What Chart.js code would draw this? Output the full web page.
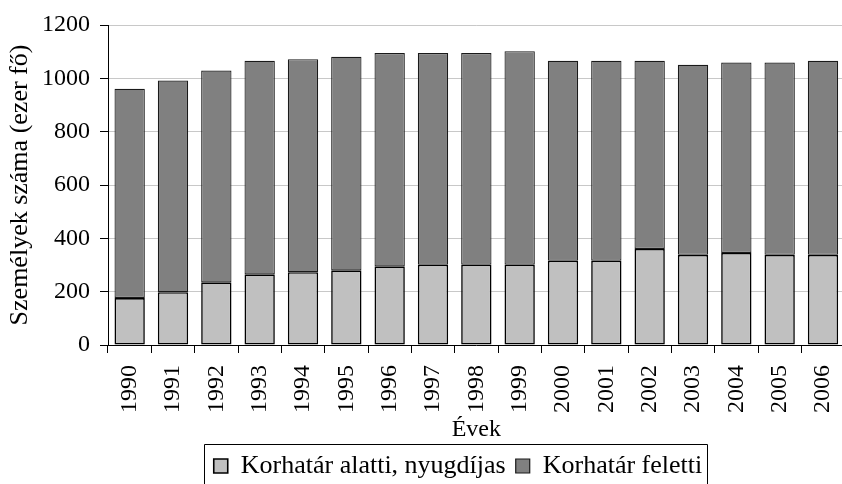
<!DOCTYPE html>
<html>
<head>
  <meta charset="UTF-8">
  <title>Személyek száma</title>
  <style>
    html, body {
      margin: 0;
      padding: 0;
      background: #fff;
      overflow: hidden;
    }
    #wrap {
      width: 859px;
      height: 489px;
    }
  </style>
</head>
<body>
  <div id="wrap">
    <canvas id="chart"></canvas>
  </div>

  <script src="https://cdn.jsdelivr.net/npm/chart.js"></script>
  <script>
    const years = ["1990", "1991", "1992", "1993", "1994", "1995", "1996", "1997", "1998",
                   "1999", "2000", "2001", "2002", "2003", "2004", "2005", "2006"];
    // alsó rész (világosszürke)
    const alattiNyugdijas = [176, 198, 235, 265, 273, 280, 295, 301, 301,
                             301, 316, 316, 360, 338, 345, 338, 338];
    // felső rész (sötétszürke)
    const feletti = [785, 794, 794, 801, 799, 801, 800, 794, 794,
                     801, 750, 750, 706, 713, 714, 721, 728];
    const seriesNames = ["Korhatár alatti, nyugdíjas", "Korhatár feletti"];
    const yTicks = [0, 200, 400, 600, 800, 1000, 1200];

    const FONT = "Liberation Serif";
    const SIZE = 24;
    const BIG = 26;

    // keret a jelmagyarázat körül, és eltolás középre
    const legendFrame = {
      id: "legendFrame",
      afterLayout(chart) {
        const lg = chart.legend;
        const shift = 458 - (lg.left + lg.right) / 2;
        lg.left += shift;
        lg.right += shift;
        (lg.legendHitBoxes || []).forEach((hb) => { hb.left += shift; });
      },
      afterDraw(chart) {
        const boxes = chart.legend.legendHitBoxes;
        if (!boxes || !boxes.length) return;
        const first = boxes[0];
        const last = boxes[boxes.length - 1];
        const mid = first.top + first.height / 2;
        const x0 = Math.round(first.left - 10) + 0.5;
        const x1 = Math.round(last.left + last.width + 5) + 0.5;
        const y0 = Math.round(mid - 22) + 0.5;
        const y1 = mid + 40;
        const ctx = chart.ctx;
        ctx.save();
        ctx.strokeStyle = "#000";
        ctx.lineWidth = 1;
        ctx.beginPath();
        ctx.moveTo(x0, y1);
        ctx.lineTo(x0, y0);
        ctx.lineTo(x1, y0);
        ctx.lineTo(x1, y1);
        ctx.stroke();
        ctx.restore();
      }
    };

    Chart.defaults.font.family = FONT;
    Chart.defaults.font.size = SIZE;
    Chart.defaults.color = "#000";

    new Chart(document.getElementById("chart"), {
      type: "bar",
      data: {
        labels: years,
        datasets: [
          {
            label: seriesNames[0],
            data: alattiNyugdijas,
            backgroundColor: "#c0c0c0",
            borderColor: "#000",
            borderWidth: 1.6,
            borderSkipped: false,
            categoryPercentage: 1,
            barPercentage: 0.7,
          },
          {
            label: seriesNames[1],
            data: feletti,
            backgroundColor: "#808080",
            borderColor: "#1a1a1a",
            borderWidth: 1.2,
            borderSkipped: false,
            categoryPercentage: 1,
            barPercentage: 0.7,
          },
        ],
      },
      options: {
        responsive: true,
        maintainAspectRatio: false,
        animation: false,
        layout: {
          padding: { top: 25, right: 0, left: 0, bottom: 0 },
        },
        plugins: {
          legend: {
            position: "bottom",
            fullSize: false,
            labels: {
              boxWidth: 14,
              boxHeight: 14,
              padding: 10,
              font: { size: BIG, lineHeight: 1 },
            },
          },
          tooltip: { enabled: false },
        },
        scales: {
          x: {
            stacked: true,
            grid: {
              offset: true,
              drawOnChartArea: false,
              drawTicks: true,
              tickLength: 8,
              color: "#000",
            },
            border: { color: "#000", width: 1 },
            ticks: {
              autoSkip: false,
              minRotation: 90,
              maxRotation: 90,
              padding: 12,
              font: { size: SIZE, lineHeight: 1 },
            },
            title: {
              display: true,
              text: "Évek",
              font: { size: SIZE, lineHeight: 1 },
              padding: { top: -7, bottom: 1 },
            },
          },
          y: {
            stacked: true,
            min: 0,
            max: 1200,
            afterBuildTicks(scale) {
              scale.ticks = yTicks.map((v) => ({ value: v }));
            },
            grid: {
              color: "#c8c8c8",
              tickColor: "#000",
              tickLength: 8,
            },
            border: { color: "#000", width: 1 },
            ticks: {
              padding: 10,
              callback: (v) => String(v),
            },
            title: {
              display: true,
              text: "Személyek száma (ezer fő)",
              font: { size: BIG, lineHeight: 1 },
              padding: { top: 7, bottom: -1 },
            },
          },
        },
      },
      plugins: [legendFrame],
    });
  </script>
</body>
</html>
